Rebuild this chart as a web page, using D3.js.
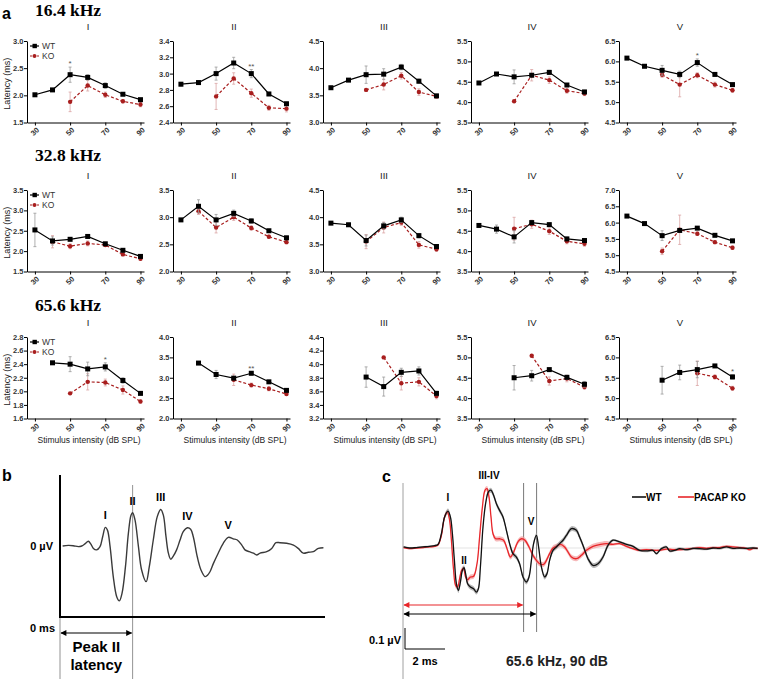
<!DOCTYPE html>
<html>
<head>
<meta charset="utf-8">
<script src="https://cdn.jsdelivr.net/npm/d3@7"></script>
<style>
body { margin: 0; background: #fff; }
svg { display: block; font-family: "Liberation Sans", Arial, sans-serif; }
</style>
</head>
<body>
<div id="chart"></div>
<script>
const width = 758;
const height = 679;

// ---- panel a data ----
const dbLevels = [30, 40, 50, 60, 70, 80, 90];
const xTickDb = [30, 50, 70, 90];
const waveNames = ["I", "II", "III", "IV", "V"];
const freqTitles = ["16.4 kHz", "32.8 kHz", "65.6 kHz"];

const wtMean16 = [
  [2.01, 2.10, 2.38, 2.33, 2.18, 2.02, 1.92],
  [2.87, 2.89, 3.00, 3.13, 3.00, 2.75, 2.63],
  [3.64, 3.78, 3.88, 3.89, 4.02, 3.76, 3.49],
  [4.47, 4.69, 4.62, 4.66, 4.73, 4.42, 4.25],
  [6.08, 5.88, 5.78, 5.68, 5.97, 5.68, 5.43]
];
const wtErr16 = [
  [0.02, 0.02, 0.14, 0.05, 0.05, 0.02, 0.02],
  [0.02, 0.02, 0.08, 0.07, 0.05, 0.02, 0.02],
  [0.02, 0.02, 0.16, 0.10, 0.05, 0.04, 0.03],
  [0.02, 0.02, 0.17, 0.03, 0.05, 0.03, 0.04],
  [0.02, 0.02, 0.12, 0.08, 0.09, 0.03, 0.03]
];
const koMean16 = [
  [null, null, 1.88, 2.18, 2.01, 1.89, 1.83],
  [null, null, 2.72, 2.94, 2.76, 2.58, 2.57],
  [null, null, 3.60, 3.70, 3.86, 3.56, 3.48],
  [null, null, 4.02, 4.66, 4.54, 4.28, 4.21],
  [null, null, 5.67, 5.43, 5.66, 5.43, 5.29]
];
const koErr16 = [
  [0, 0, 0.18, 0.10, 0.05, 0.03, 0.04],
  [0, 0, 0.16, 0.07, 0.05, 0.03, 0.04],
  [0, 0, 0.02, 0.10, 0.06, 0.06, 0.03],
  [0, 0, 0.02, 0.14, 0.08, 0.06, 0.05],
  [0, 0, 0.06, 0.30, 0.06, 0.06, 0.05]
];

const wtMean32 = [
  [2.52, 2.25, 2.29, 2.36, 2.18, 2.02, 1.87],
  [2.95, 3.20, 2.95, 3.07, 2.93, 2.75, 2.62],
  [3.89, 3.86, 3.57, 3.84, 3.95, 3.66, 3.46],
  [4.63, 4.54, 4.35, 4.70, 4.65, 4.30, 4.26],
  [6.20, 5.97, 5.60, 5.76, 5.83, 5.61, 5.44]
];
const wtErr32 = [
  [0.41, 0.10, 0.03, 0.04, 0.02, 0.02, 0.02],
  [0.02, 0.12, 0.10, 0.06, 0.04, 0.02, 0.03],
  [0.02, 0.03, 0.10, 0.06, 0.05, 0.04, 0.03],
  [0.02, 0.10, 0.15, 0.05, 0.04, 0.04, 0.04],
  [0.02, 0.03, 0.15, 0.05, 0.04, 0.03, 0.04]
];
const koMean32 = [
  [null, 2.23, 2.12, 2.19, 2.15, 1.92, 1.81],
  [null, 3.11, 2.81, 3.00, 2.80, 2.64, 2.54],
  [null, null, 3.55, 3.81, 3.90, 3.49, 3.41],
  [null, null, 4.55, 4.66, 4.49, 4.24, 4.18],
  [null, null, 5.12, 5.78, 5.66, 5.40, 5.23]
];
const koErr32 = [
  [0, 0.15, 0.06, 0.06, 0.03, 0.03, 0.03],
  [0, 0.06, 0.10, 0.06, 0.04, 0.03, 0.03],
  [0, 0, 0.13, 0.10, 0.05, 0.06, 0.04],
  [0, 0, 0.28, 0.10, 0.08, 0.06, 0.06],
  [0, 0, 0.10, 0.45, 0.05, 0.05, 0.05]
];

const wtMean65 = [
  [null, 2.42, 2.40, 2.33, 2.36, 2.16, 1.97],
  [null, 3.36, 3.08, 2.99, 3.11, 2.90, 2.69],
  [null, null, 3.81, 3.67, 3.88, 3.90, 3.57],
  [null, null, 4.50, 4.55, 4.70, 4.51, 4.34],
  [null, null, 5.44, 5.63, 5.70, 5.79, 5.52]
];
const wtErr65 = [
  [0, 0.01, 0.11, 0.10, 0.06, 0.04, 0.02],
  [0, 0.02, 0.10, 0.03, 0.04, 0.03, 0.04],
  [0, 0, 0.15, 0.14, 0.06, 0.06, 0.03],
  [0, 0, 0.30, 0.13, 0.03, 0.05, 0.07],
  [0, 0, 0.34, 0.18, 0.20, 0.03, 0.05]
];
const koMean65 = [
  [null, null, 1.97, 2.14, 2.13, 2.02, 1.85],
  [null, null, null, 2.95, 2.82, 2.73, 2.60],
  [null, null, null, 4.10, 3.72, 3.74, 3.53],
  [null, null, null, 5.04, 4.42, 4.48, 4.27],
  [null, null, null, null, 5.61, 5.52, 5.24]
];
const koErr65 = [
  [0, 0, 0.01, 0.12, 0.05, 0.06, 0.02],
  [0, 0, 0, 0.14, 0.05, 0.05, 0.03],
  [0, 0, 0, 0.01, 0.10, 0.06, 0.04],
  [0, 0, 0, 0.01, 0.10, 0.08, 0.05],
  [0, 0, 0, 0, 0.30, 0.05, 0.05]
];

const yDom16 = [[1.5, 3.0], [2.4, 3.4], [3.0, 4.5], [3.5, 5.5], [4.5, 6.5]];
const yStep16 = [0.5, 0.2, 0.5, 0.5, 0.5];
const yDom32 = [[1.5, 3.5], [2.0, 3.5], [3.0, 4.5], [3.5, 5.5], [4.5, 7.0]];
const yStep32 = [0.5, 0.5, 0.5, 0.5, 0.5];
const yDom65 = [[1.6, 2.8], [2.0, 4.0], [3.2, 4.4], [3.5, 5.5], [4.5, 6.5]];
const yStep65 = [0.2, 0.5, 0.2, 0.5, 0.5];

// significance marks: [wave index, dB level, text]
const stars16 = [[0, 50, "*"], [1, 70, "**"], [4, 70, "*"]];
const stars32 = [];
const stars65 = [[0, 70, "*"], [1, 70, "**"], [4, 90, "*"]];

// ---- panel b data (ms, µV) ----
const timeB = [0.10, 0.31, 0.50, 0.69, 0.82, 0.94, 1.07, 1.16, 1.26, 1.38, 1.51, 1.61, 1.71, 1.79, 1.89,
  2.01, 2.14, 2.24, 2.34, 2.47, 2.58, 2.68, 2.74, 2.83, 2.96, 3.08, 3.25, 3.37, 3.52, 3.67, 3.80, 3.90,
  4.00, 4.09, 4.18, 4.28, 4.40, 4.53, 4.65, 4.81, 4.93, 5.03, 5.18, 5.32, 5.47, 5.56, 5.66, 5.79, 5.97,
  6.16, 6.35, 6.54, 6.69, 6.86, 6.98, 7.14, 7.30, 7.42, 7.55, 7.80, 7.99, 8.15, 8.30, 8.55, 8.81, 8.99,
  9.18, 9.37, 9.56, 9.75, 9.94];
const voltB = [0, 0.02, 0.01, -0.02, 0, 0.07, 0.16, 0.07, -0.08, -0.13, -0.02, 0.31, 0.62, 0.53, -0.02,
  -1.02, -1.69, -1.83, -1.58, -0.69, 0.42, 1.03, 1.11, 0.87, -0.02, -0.80, -1.19, -0.69, 0.20, 0.98, 1.22, 1.03,
  0.31, -0.24, -0.44, -0.33, -0.13, 0.20, 0.48, 0.61, 0.56, 0.31, -0.36, -0.80, -1.02, -0.98, -0.86, -0.58, -0.24,
  0.09, 0.29, 0.24, 0.20, 0.03, -0.13, -0.19, -0.24, -0.30, -0.24, -0.19, -0.08, 0.11, 0.11, 0.09, 0.03, -0.08,
  -0.24, -0.21, -0.19, -0.08, -0.06];
const peakLabelsB = [["I", 1.71, 0.62], ["II", 2.74, 1.11], ["III", 3.80, 1.22], ["IV", 4.81, 0.61], ["V", 6.35, 0.29]];
const peakIITime = 2.74;

// ---- panel c data (ms, µV) ----
const wtTimeC = [0.03, 0.33, 0.67, 1.00, 1.33, 1.58, 1.75, 1.92, 2.08, 2.25, 2.37, 2.47, 2.57, 2.67, 2.77, 2.87,
  2.97, 3.05, 3.13, 3.23, 3.37, 3.53, 3.67, 3.77, 3.87, 4.00, 4.13, 4.27, 4.40, 4.53, 4.67, 4.83, 5.00, 5.17,
  5.33, 5.50, 5.67, 5.83, 6.00, 6.17, 6.30, 6.42, 6.53, 6.67, 6.78, 6.92, 7.08, 7.20, 7.33, 7.50, 7.67, 7.83,
  8.00, 8.17, 8.42, 8.67, 8.83, 9.03, 9.25, 9.50, 9.75, 10.00, 10.25, 10.50, 10.83, 11.17, 11.50, 11.83, 12.17,
  12.50, 12.67, 12.92, 13.17, 13.33, 13.58, 13.83, 14.17, 14.50, 14.83, 15.17, 15.50, 15.83, 16.17, 16.50,
  16.83, 17.17, 17.50, 17.73];
const wtVoltC = [0.005, 0, 0.002, 0.005, 0.008, 0.011, 0.017, 0.068, 0.148, 0.176, 0.148, 0.068, -0.059, -0.170,
  -0.202, -0.162, -0.106, -0.094, -0.122, -0.170, -0.186, -0.194, -0.210, -0.194, -0.090, 0.100, 0.211, 0.267,
  0.275, 0.251, 0.211, 0.179, 0.148, 0.084, 0.021, -0.027, -0.043, -0.075, -0.138, -0.162, -0.138, -0.059, 0.021,
  0.060, 0.005, -0.090, -0.138, -0.122, -0.059, -0.011, 0.005, 0.021, 0.037, 0.060, 0.092, 0.084, 0.052, 0.005,
  -0.051, -0.083, -0.075, -0.043, 0.013, 0.037, 0.029, 0.017, 0.008, -0.011, -0.014, -0.011, -0.027, -0.003,
  0.005, -0.014, -0.011, -0.003, -0.008, -0.002, -0.003, -0.005, 0, -0.002, 0.005, -0.002, 0, -0.002, 0, -0.002];
const koTimeC = [0.03, 0.33, 0.67, 1.00, 1.33, 1.58, 1.75, 1.92, 2.08, 2.22, 2.33, 2.42, 2.53, 2.63, 2.73, 2.83,
  2.93, 3.03, 3.13, 3.23, 3.37, 3.53, 3.70, 3.83, 3.97, 4.10, 4.20, 4.30, 4.40, 4.50, 4.63, 4.83, 5.03, 5.20,
  5.37, 5.50, 5.63, 5.77, 5.93, 6.10, 6.30, 6.50, 6.67, 6.83, 7.03, 7.17, 7.33, 7.50, 7.67, 7.87, 8.08, 8.25,
  8.42, 8.67, 8.92, 9.17, 9.50, 9.83, 10.17, 10.50, 10.83, 11.17, 11.50, 11.83, 12.17, 12.50, 12.83, 13.17,
  13.50, 13.83, 14.17, 14.50, 14.83, 15.17, 15.50, 15.83, 16.17, 16.50, 16.83, 17.17, 17.33, 17.50, 17.73];
const koVoltC = [0.002, -0.003, 0, 0.002, 0.005, 0.008, 0.014, 0.060, 0.148, 0.171, 0.132, 0.037, -0.106, -0.178,
  -0.186, -0.146, -0.106, -0.098, -0.138, -0.151, -0.138, -0.135, -0.075, 0.052, 0.195, 0.275, 0.283, 0.243,
  0.148, 0.068, 0.044, 0.044, 0.037, -0.003, -0.043, -0.027, 0.005, 0.033, 0.044, 0.037, 0.005, -0.035, -0.059,
  -0.075, -0.078, -0.059, -0.027, 0, 0.008, 0.017, 0.005, -0.019, -0.043, -0.051, -0.035, -0.011, 0.008, 0.016,
  0.021, 0.017, 0.021, 0.008, -0.003, -0.011, -0.008, -0.011, -0.011, -0.005, -0.008, -0.008, -0.005, -0.002,
  0.002, -0.002, 0.002, 0.002, 0.008, 0.005, 0.002, -0.002, -0.008, -0.002, -0.002];
// SEM half-width by time window: [from ms, to ms, µV]
const semWindowsC = [[0, 1.8, 0.004], [1.8, 10.5, 0.012], [10.5, 18, 0.006]];
const peakLabelsC = [["I", 2.25, 0.176], ["II", 3.05, -0.094], ["III-IV", 4.30, 0.283], ["V", 6.40, 0.060]];
const waveVTimeKO = 6.03;
const waveVTimeWT = 6.68;

// ---- svg ----
const svg = d3.select("#chart").append("svg")
  .attr("width", width)
  .attr("height", height);

const defs = svg.append("defs");
function arrowMarker(id, color) {
  defs.append("marker")
    .attr("id", id)
    .attr("viewBox", "0 0 10 10")
    .attr("refX", 9).attr("refY", 5)
    .attr("markerUnits", "userSpaceOnUse")
    .attr("markerWidth", 7).attr("markerHeight", 6)
    .attr("orient", "auto-start-reverse")
    .append("path")
    .attr("d", "M0,0L10,5L0,10z")
    .attr("fill", color);
}
arrowMarker("arrBlack", "#000");
arrowMarker("arrRed", "#e8262a");

// ---- panel a ----
const axisX = [27, 173, 323, 471, 619];
const rowTop = [41, 190, 337];
const rowTitleY = [16, 161, 311];
const plotW = 117;
const plotH = 81.5;
const wtColor = "#000";
const koColor = "#a81e1e";

const rows = [
  { wt: wtMean16, wtE: wtErr16, ko: koMean16, koE: koErr16, dom: yDom16, step: yStep16, stars: stars16 },
  { wt: wtMean32, wtE: wtErr32, ko: koMean32, koE: koErr32, dom: yDom32, step: yStep32, stars: stars32 },
  { wt: wtMean65, wtE: wtErr65, ko: koMean65, koE: koErr65, dom: yDom65, step: yStep65, stars: stars65 }
];

const xScale = d3.scaleLinear().domain([25.5, 92]).range([0, plotW]);

svg.append("text")
  .attr("x", 2).attr("y", 19)
  .attr("font-size", 16).attr("font-weight", "bold")
  .text("a");

rows.forEach((row, r) => {
  svg.append("text")
    .attr("x", 35).attr("y", rowTitleY[r])
    .attr("font-family", "'Liberation Serif', 'Times New Roman', serif")
    .attr("font-weight", "bold")
    .attr("font-size", 17.5)
    .text(freqTitles[r]);

  svg.append("text")
    .attr("transform", `translate(10,${rowTop[r] + plotH / 2 + 2}) rotate(-90)`)
    .attr("text-anchor", "middle")
    .attr("font-size", 9)
    .attr("fill", "#222")
    .text("Latency (ms)");

  waveNames.forEach((wave, p) => {
    const g = svg.append("g")
      .attr("transform", `translate(${axisX[p]},${rowTop[r]})`);

    const yScale = d3.scaleLinear().domain(row.dom[p]).range([plotH, 0]);
    const ticks = d3.range(row.dom[p][0], row.dom[p][1] + 1e-6, row.step[p]);

    svg.append("text")
      .attr("x", axisX[p] + 61).attr("y", rowTop[r] - 11)
      .attr("text-anchor", "middle")
      .attr("font-size", 9.5)
      .attr("fill", "#222")
      .text(wave);

    const yAxis = g.append("g")
      .call(d3.axisLeft(yScale).tickValues(ticks).tickSize(3).tickSizeOuter(0).tickFormat(d3.format(".1f")));
    yAxis.attr("font-family", null).attr("font-size", null);
    yAxis.selectAll("text").attr("font-size", 7.5).attr("font-weight", "bold").attr("fill", "#333").attr("x", -3.5);
    yAxis.selectAll("path, line").attr("stroke", "#000");

    const xAxis = g.append("g")
      .attr("transform", `translate(0,${plotH})`)
      .call(d3.axisBottom(xScale).tickValues(xTickDb).tickSize(3).tickSizeOuter(0));
    xAxis.attr("font-family", null).attr("font-size", null);
    xAxis.selectAll("path, line").attr("stroke", "#000");
    xAxis.selectAll("text")
      .attr("font-size", 7.5).attr("font-weight", "bold").attr("fill", "#333")
      .attr("y", 0).attr("dy", null)
      .attr("text-anchor", "middle")
      .attr("transform", "translate(0,9.5) rotate(-45)")
      .attr("dominant-baseline", "middle");

    if (r === 2) {
      svg.append("text")
        .attr("x", axisX[p] + 62).attr("y", 443)
        .attr("text-anchor", "middle")
        .attr("font-size", 8.5)
        .attr("fill", "#222")
        .text("Stimulus intensity (dB SPL)");
    }

    const series = [
      { mean: row.ko[p], err: row.koE[p], color: koColor, barColor: "#dba3a3", dash: "3,2", type: "ko" },
      { mean: row.wt[p], err: row.wtE[p], color: wtColor, barColor: "#9a9a9a", dash: null, type: "wt" }
    ];

    series.forEach(s => {
      const pts = dbLevels.map((db, i) => ({ db, v: s.mean[i], e: s.err[i] }));
      const defined = pts.filter(d => d.v !== null);

      const bars = g.append("g").selectAll("g")
        .data(defined.filter(d => d.e > 0.015))
        .enter().append("g")
        .attr("stroke", s.barColor).attr("stroke-width", 0.8);
      bars.append("line")
        .attr("x1", d => xScale(d.db)).attr("x2", d => xScale(d.db))
        .attr("y1", d => yScale(d.v - d.e)).attr("y2", d => yScale(d.v + d.e));
      bars.append("line")
        .attr("x1", d => xScale(d.db) - 1.5).attr("x2", d => xScale(d.db) + 1.5)
        .attr("y1", d => yScale(d.v + d.e)).attr("y2", d => yScale(d.v + d.e));
      bars.append("line")
        .attr("x1", d => xScale(d.db) - 1.5).attr("x2", d => xScale(d.db) + 1.5)
        .attr("y1", d => yScale(d.v - d.e)).attr("y2", d => yScale(d.v - d.e));

      const line = d3.line()
        .defined(d => d.v !== null)
        .x(d => xScale(d.db))
        .y(d => yScale(d.v));
      g.append("path")
        .datum(pts)
        .attr("d", line)
        .attr("fill", "none")
        .attr("stroke", s.color)
        .attr("stroke-width", 1.2)
        .attr("stroke-dasharray", s.dash);

      if (s.type === "wt") {
        g.selectAll(null).data(defined).enter().append("rect")
          .attr("x", d => xScale(d.db) - 2.5).attr("y", d => yScale(d.v) - 2.5)
          .attr("width", 5).attr("height", 5)
          .attr("fill", s.color);
      } else {
        g.selectAll(null).data(defined).enter().append("circle")
          .attr("cx", d => xScale(d.db)).attr("cy", d => yScale(d.v))
          .attr("r", 2.2)
          .attr("fill", s.color);
      }
    });

    row.stars.filter(s => s[0] === p).forEach(s => {
      const i = dbLevels.indexOf(s[1]);
      const top = row.wt[p][i] + row.wtE[p][i];
      g.append("text")
        .attr("x", xScale(s[1])).attr("y", yScale(top) - 1)
        .attr("text-anchor", "middle")
        .attr("font-size", 8)
        .attr("fill", "#555")
        .text(s[2]);
    });

    if (p === 0) {
      const leg = g.append("g").attr("transform", "translate(3,5)");
      leg.append("line").attr("x1", 0).attr("x2", 9).attr("y1", 0).attr("y2", 0)
        .attr("stroke", wtColor).attr("stroke-width", 1.2);
      leg.append("rect").attr("x", 2.5).attr("y", -2.2).attr("width", 4.4).attr("height", 4.4).attr("fill", wtColor);
      leg.append("text").attr("x", 12).attr("y", 3).attr("font-size", 8.5).attr("fill", "#333").text("WT");
      leg.append("line").attr("x1", 0).attr("x2", 9).attr("y1", 10).attr("y2", 10)
        .attr("stroke", koColor).attr("stroke-width", 1.2).attr("stroke-dasharray", "2,1.5");
      leg.append("circle").attr("cx", 4.5).attr("cy", 10).attr("r", 2).attr("fill", koColor);
      leg.append("text").attr("x", 12).attr("y", 13).attr("font-size", 8.5).attr("fill", "#333").text("KO");
    }
  });
});

// ---- panel b ----
const xB = d3.scaleLinear().domain([0, 10]).range([60, 325]);
const yB = d3.scaleLinear().domain([-2.37, 2.37]).range([617, 475]);

svg.append("text").attr("x", 2).attr("y", 481)
  .attr("font-size", 16).attr("font-weight", "bold").text("b");

svg.append("line")
  .attr("x1", xB(peakIITime)).attr("x2", xB(peakIITime))
  .attr("y1", 485).attr("y2", height)
  .attr("stroke", "#777").attr("stroke-width", 0.8);
svg.append("line")
  .attr("x1", xB(0)).attr("x2", xB(0))
  .attr("y1", yB.range()[0]).attr("y2", height)
  .attr("stroke", "#777").attr("stroke-width", 0.8);

svg.append("path")
  .attr("d", `M${xB(0)},${yB.range()[1]}V${yB.range()[0]}H${xB(10)}`)
  .attr("fill", "none").attr("stroke", "#000").attr("stroke-width", 2);

svg.append("path")
  .datum(d3.zip(timeB, voltB))
  .attr("d", d3.line().x(d => xB(d[0])).y(d => yB(d[1])).curve(d3.curveCatmullRom))
  .attr("fill", "none").attr("stroke", "#3a3a3a").attr("stroke-width", 1.4);

svg.selectAll(null).data(peakLabelsB).enter().append("text")
  .attr("x", d => xB(d[1])).attr("y", d => yB(d[2]) - 8)
  .attr("text-anchor", "middle")
  .attr("font-size", 11).attr("font-weight", "bold")
  .text(d => d[0]);

svg.append("text").attr("x", 53).attr("y", yB(0) + 4)
  .attr("text-anchor", "end").attr("font-size", 11).attr("font-weight", "bold").text("0 µV");
svg.append("text").attr("x", 55).attr("y", 632)
  .attr("text-anchor", "end").attr("font-size", 11).attr("font-weight", "bold").text("0 ms");

svg.append("line")
  .attr("x1", xB(0) + 1).attr("x2", xB(peakIITime) - 1)
  .attr("y1", 633).attr("y2", 633)
  .attr("stroke", "#000").attr("stroke-width", 1.2)
  .attr("marker-start", "url(#arrBlack)").attr("marker-end", "url(#arrBlack)");

svg.append("text").attr("x", (xB(0) + xB(peakIITime)) / 2).attr("y", 652)
  .attr("text-anchor", "middle").attr("font-size", 15).attr("font-weight", "bold").text("Peak II");
svg.append("text").attr("x", (xB(0) + xB(peakIITime)) / 2).attr("y", 670)
  .attr("text-anchor", "middle").attr("font-size", 15).attr("font-weight", "bold").text("latency");

// ---- panel c ----
const xC = d3.scaleLinear().domain([0, 17.73]).range([403, 757.6]);
const yC = d3.scaleLinear().domain([0, 0.1]).range([548, 527]);

svg.append("text").attr("x", 382).attr("y", 482)
  .attr("font-size", 16).attr("font-weight", "bold").text("c");

svg.append("line")
  .attr("x1", xC(0)).attr("x2", width)
  .attr("y1", yC(0)).attr("y2", yC(0))
  .attr("stroke", "#dcdcdc").attr("stroke-width", 0.8);

svg.append("line")
  .attr("x1", xC(0)).attr("x2", xC(0)).attr("y1", 483).attr("y2", height)
  .attr("stroke", "#888").attr("stroke-width", 0.8);
[waveVTimeKO, waveVTimeWT].forEach(t => {
  svg.append("line")
    .attr("x1", xC(t)).attr("x2", xC(t)).attr("y1", 483).attr("y2", 632)
    .attr("stroke", "#555").attr("stroke-width", 0.8);
});

function semAt(t) {
  const w = semWindowsC.find(s => t >= s[0] && t < s[1]);
  return w ? w[2] : 0.005;
}

const traces = [
  { t: koTimeC, v: koVoltC, color: "#e8262a", band: "#f3a1a3" },
  { t: wtTimeC, v: wtVoltC, color: "#111", band: "#a0a0a0" }
];
traces.forEach(tr => {
  const pts = d3.zip(tr.t, tr.v);
  svg.append("path")
    .datum(pts)
    .attr("d", d3.area()
      .x(d => xC(d[0]))
      .y0(d => yC(d[1] - semAt(d[0])))
      .y1(d => yC(d[1] + semAt(d[0])))
      .curve(d3.curveCatmullRom))
    .attr("fill", tr.band).attr("opacity", 0.75);
});
traces.forEach(tr => {
  svg.append("path")
    .datum(d3.zip(tr.t, tr.v))
    .attr("d", d3.line().x(d => xC(d[0])).y(d => yC(d[1])).curve(d3.curveCatmullRom))
    .attr("fill", "none").attr("stroke", tr.color).attr("stroke-width", 1.3);
});

svg.selectAll(null).data(peakLabelsC).enter().append("text")
  .attr("x", d => xC(d[1]))
  .attr("y", d => d[0] === "II" ? yC(d[2]) - 4 : yC(d[2]) - 10)
  .attr("text-anchor", "middle")
  .attr("font-size", 10).attr("font-weight", "bold")
  .text(d => d[0]);

svg.append("line")
  .attr("x1", xC(0) + 1).attr("x2", xC(waveVTimeKO) - 1).attr("y1", 605).attr("y2", 605)
  .attr("stroke", "#e8262a").attr("stroke-width", 1.2)
  .attr("marker-start", "url(#arrRed)").attr("marker-end", "url(#arrRed)");
svg.append("line")
  .attr("x1", xC(0) + 1).attr("x2", xC(waveVTimeWT) - 1).attr("y1", 614).attr("y2", 614)
  .attr("stroke", "#000").attr("stroke-width", 1.2)
  .attr("marker-start", "url(#arrBlack)").attr("marker-end", "url(#arrBlack)");

// legend
svg.append("line").attr("x1", 632).attr("x2", 646).attr("y1", 497).attr("y2", 497)
  .attr("stroke", "#111").attr("stroke-width", 1.6);
svg.append("text").attr("x", 646).attr("y", 501)
  .attr("font-size", 10).attr("font-weight", "bold").text("WT");
svg.append("line").attr("x1", 678).attr("x2", 694).attr("y1", 497).attr("y2", 497)
  .attr("stroke", "#e8262a").attr("stroke-width", 1.6);
svg.append("text").attr("x", 694).attr("y", 501)
  .attr("font-size", 10).attr("font-weight", "bold").text("PACAP KO");

// scale bar
const barX0 = 405, barY0 = 649;
const barW = xC(2) - xC(0);
const barH = yC(0) - yC(0.1);
svg.append("path")
  .attr("d", `M${barX0},${barY0 - barH}V${barY0}H${barX0 + barW}`)
  .attr("fill", "none").attr("stroke", "#000").attr("stroke-width", 1);
svg.append("text").attr("x", 401).attr("y", 644)
  .attr("text-anchor", "end").attr("font-size", 11).attr("font-weight", "bold").text("0.1 µV");
svg.append("text").attr("x", barX0 + barW / 2).attr("y", 665)
  .attr("text-anchor", "middle").attr("font-size", 11).attr("font-weight", "bold").text("2 ms");
svg.append("text").attr("x", 557).attr("y", 666)
  .attr("text-anchor", "middle").attr("font-size", 14).attr("font-weight", "bold").attr("fill", "#222")
  .text("65.6 kHz, 90 dB");
</script>
</body>
</html>
